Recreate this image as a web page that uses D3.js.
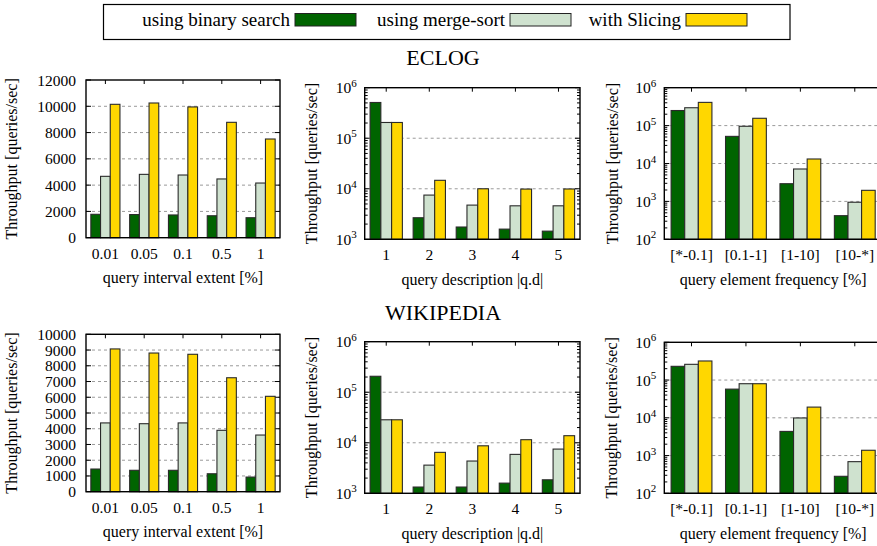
<!DOCTYPE html>
<html>
<head>
<meta charset="utf-8">
<script src="https://cdn.jsdelivr.net/npm/d3@7"></script>
<style>
  body { margin: 0; background: #fff; }
  svg { display: block; }
  text { font-family: "Liberation Serif", "Times New Roman", Times, serif; fill: #000; }
</style>
</head>
<body>
<svg id="chart" width="877" height="546"></svg>
<script>
// ---- series and categories ----
const seriesNames = ["using binary search", "using merge-sort", "with Slicing"];
const seriesColors = ["#006400", "#cfe2cf", "#ffd700"];

const extentCategories = ["0.01", "0.05", "0.1", "0.5", "1"];
const descCategories = ["1", "2", "3", "4", "5"];
const freqCategories = ["[*-0.1]", "[0.1-1]", "[1-10]", "[10-*]"];

const extentTicksEclog = [0, 2000, 4000, 6000, 8000, 10000, 12000];
const extentTicksWiki = [0, 1000, 2000, 3000, 4000, 5000, 6000, 7000, 8000, 9000, 10000];
const descTicks = [1e3, 1e4, 1e5, 1e6];
const freqTicks = [1e2, 1e3, 1e4, 1e5, 1e6];

// ECLOG
const eclogExtentBinary = [1780, 1760, 1730, 1670, 1520];
const eclogExtentMerge = [4670, 4820, 4770, 4470, 4160];
const eclogExtentSlicing = [10150, 10250, 9950, 8780, 7510];

const eclogDescBinary = [510000, 2670, 1750, 1590, 1450];
const eclogDescMerge = [205000, 7500, 4750, 4600, 4600];
const eclogDescSlicing = [205000, 14700, 10000, 9860, 9900];

const eclogFreqBinary = [250000, 52000, 2930, 420];
const eclogFreqMerge = [296000, 96000, 7160, 950];
const eclogFreqSlicing = [410000, 156000, 13150, 1960];

// WIKIPEDIA
const wikiExtentBinary = [1440, 1360, 1360, 1140, 930];
const wikiExtentMerge = [4370, 4320, 4370, 3900, 3600];
const wikiExtentSlicing = [9070, 8810, 8730, 7240, 6060];

const wikiDescBinary = [207000, 1330, 1330, 1590, 1850];
const wikiDescMerge = [28500, 3610, 4350, 5890, 7500];
const wikiDescSlicing = [28500, 6460, 8710, 11500, 13800];

const wikiFreqBinary = [231000, 57500, 4360, 282];
const wikiFreqMerge = [261000, 80000, 9900, 689];
const wikiFreqSlicing = [320000, 80000, 19200, 1380];

const yLabel = "Throughput [queries/sec]";

const svg = d3.select("#chart");
svg.append("rect").attr("width", 877).attr("height", 546).attr("fill", "#fff");

// ---- legend ----
const legend = svg.append("g");
legend.append("rect")
  .attr("x", 103.5).attr("y", 4.5).attr("width", 686.5).attr("height", 35)
  .attr("fill", "#fff").attr("stroke", "#000").attr("stroke-width", 1.2);
const legendSwatchX = [295, 510, 686];
seriesNames.forEach((name, i) => {
  legend.append("text")
    .attr("x", legendSwatchX[i] - 5).attr("y", 26)
    .attr("text-anchor", "end").attr("font-size", 19)
    .text(name);
  legend.append("rect")
    .attr("x", legendSwatchX[i]).attr("y", 13.5).attr("width", 61).attr("height", 12.5)
    .attr("fill", seriesColors[i]).attr("stroke", "#222").attr("stroke-width", 1);
});

// ---- section titles ----
svg.append("text").attr("x", 443).attr("y", 65).attr("text-anchor", "middle")
  .attr("font-size", 22).text("ECLOG");
svg.append("text").attr("x", 443).attr("y", 320).attr("text-anchor", "middle")
  .attr("font-size", 22).text("WIKIPEDIA");

// ---- one bar panel ----
function drawPanel(p) {
  const g = svg.append("g");
  const n = p.categories.length;
  const x = d3.scaleLinear().domain([-0.5, n - 0.5]).range([p.x0, p.x1]);
  const y = (p.log ? d3.scaleLog() : d3.scaleLinear())
    .domain([p.ticks[0], p.ticks[p.ticks.length - 1]])
    .range([p.y1, p.y0]);
  const bw = (x(1) - x(0)) / 4;
  const base = p.ticks[0];

  // dashed grid at interior major ticks
  g.selectAll("line.grid").data(p.ticks.slice(1, -1)).join("line")
    .attr("x1", p.x0).attr("x2", p.x1)
    .attr("y1", d => y(d)).attr("y2", d => y(d))
    .attr("stroke", "#9a9a9a").attr("stroke-width", 1)
    .attr("stroke-dasharray", "3,3");

  // tick marks, drawn inward on all sides
  const ticksG = g.append("g").attr("stroke", "#000").attr("stroke-width", 1);
  p.ticks.forEach(t => {
    ticksG.append("line").attr("x1", p.x0).attr("x2", p.x0 + 5).attr("y1", y(t)).attr("y2", y(t));
    ticksG.append("line").attr("x1", p.x1).attr("x2", p.x1 - 5).attr("y1", y(t)).attr("y2", y(t));
  });
  if (p.log) {
    const minor = [];
    for (let k = 0; k < p.ticks.length - 1; k++)
      for (let m = 2; m <= 9; m++) minor.push(p.ticks[k] * m);
    minor.forEach(t => {
      ticksG.append("line").attr("x1", p.x0).attr("x2", p.x0 + 3).attr("y1", y(t)).attr("y2", y(t));
      ticksG.append("line").attr("x1", p.x1).attr("x2", p.x1 - 3).attr("y1", y(t)).attr("y2", y(t));
    });
  }
  d3.range(n).forEach(i => {
    ticksG.append("line").attr("x1", x(i)).attr("x2", x(i)).attr("y1", p.y0).attr("y2", p.y0 + 4);
    ticksG.append("line").attr("x1", x(i)).attr("x2", x(i)).attr("y1", p.y1).attr("y2", p.y1 - 4);
  });

  // bars
  p.series.forEach((vals, s) => {
    g.selectAll(null).data(vals).join("rect")
      .attr("x", (d, i) => x(i) + (s - 1.5) * bw)
      .attr("y", d => y(d))
      .attr("width", bw)
      .attr("height", d => y(base) - y(d))
      .attr("fill", seriesColors[s])
      .attr("stroke", "#2a2a2a").attr("stroke-width", 1.1);
  });

  // frame
  g.append("rect")
    .attr("x", p.x0).attr("y", p.y0)
    .attr("width", p.x1 - p.x0).attr("height", p.y1 - p.y0)
    .attr("fill", "none").attr("stroke", "#000").attr("stroke-width", 1.4);

  // y tick labels
  p.ticks.forEach(t => {
    if (p.log) {
      const txt = g.append("text")
        .attr("x", p.x0 - 8).attr("y", y(t) + 5.5)
        .attr("text-anchor", "end").attr("font-size", 15.5);
      txt.append("tspan").text("10");
      txt.append("tspan").attr("dy", -6.5).attr("font-size", 11).text(Math.round(Math.log10(t)));
    } else {
      g.append("text")
        .attr("x", p.x0 - 10).attr("y", y(t) + 5.5)
        .attr("text-anchor", "end").attr("font-size", 15.5)
        .text(t);
    }
  });

  // x tick labels
  g.selectAll("text.cat").data(p.categories).join("text")
    .attr("x", (d, i) => x(i)).attr("y", p.y1 + 21)
    .attr("text-anchor", "middle").attr("font-size", 15.5)
    .text(d => d);

  // axis titles
  g.append("text")
    .attr("x", (p.x0 + Math.min(p.x1, 877 + 10)) / 2 + (p.xlabelShift || 0))
    .attr("y", p.y1 + 45.5)
    .attr("text-anchor", "middle").attr("font-size", 16)
    .text(p.xlabel);
  g.append("text")
    .attr("transform", `translate(${p.ylabelX},${(p.y0 + p.y1) / 2}) rotate(-90)`)
    .attr("text-anchor", "middle").attr("font-size", 16)
    .text(yLabel);
}

const panels = [
  { x0: 86, x1: 280, y0: 80, y1: 237.7, log: false, ticks: extentTicksEclog,
    categories: extentCategories, series: [eclogExtentBinary, eclogExtentMerge, eclogExtentSlicing],
    xlabel: "query interval extent [%]", ylabelX: 16.5 },
  { x0: 364.7, x1: 580, y0: 87.7, y1: 239.3, log: true, ticks: descTicks,
    categories: descCategories, series: [eclogDescBinary, eclogDescMerge, eclogDescSlicing],
    xlabel: "query description |q.d|", ylabelX: 316.5 },
  { x0: 664.3, x1: 882, y0: 87.7, y1: 239.3, log: true, ticks: freqTicks,
    categories: freqCategories, series: [eclogFreqBinary, eclogFreqMerge, eclogFreqSlicing],
    xlabel: "query element frequency [%]", ylabelX: 617.5 },
  { x0: 86, x1: 280, y0: 334.3, y1: 491.7, log: false, ticks: extentTicksWiki,
    categories: extentCategories, series: [wikiExtentBinary, wikiExtentMerge, wikiExtentSlicing],
    xlabel: "query interval extent [%]", ylabelX: 17 },
  { x0: 364.7, x1: 580, y0: 341.7, y1: 493.3, log: true, ticks: descTicks,
    categories: descCategories, series: [wikiDescBinary, wikiDescMerge, wikiDescSlicing],
    xlabel: "query description |q.d|", ylabelX: 317 },
  { x0: 664.3, x1: 882, y0: 342.3, y1: 493.3, log: true, ticks: freqTicks,
    categories: freqCategories, series: [wikiFreqBinary, wikiFreqMerge, wikiFreqSlicing],
    xlabel: "query element frequency [%]", ylabelX: 617 }
];
panels.forEach(drawPanel);
</script>
</body>
</html>
